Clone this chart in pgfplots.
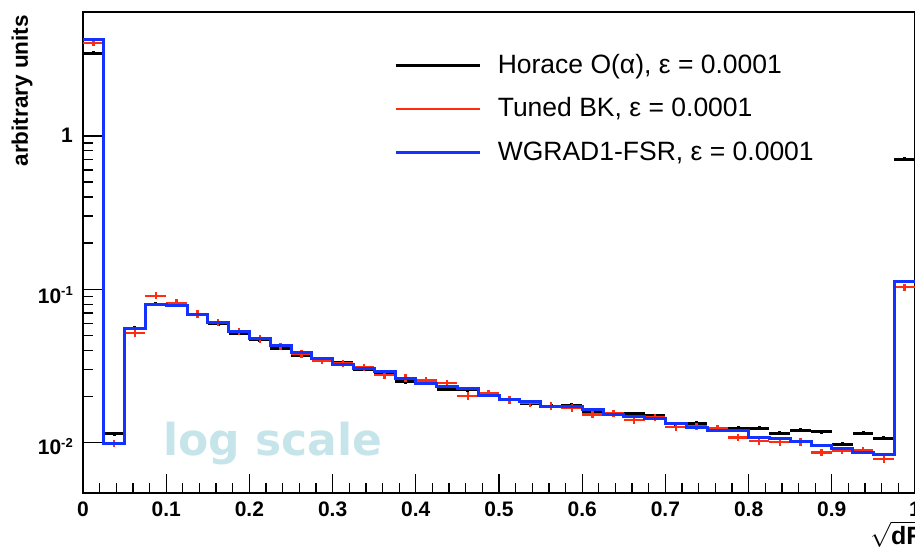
\documentclass[border=0pt]{standalone}
\usepackage{pgfplots}
\pgfplotsset{compat=1.18}
\usepackage{pgfplotstable}
\usepackage{fontspec}
\setmainfont{Liberation Sans}
\newfontfamily\wmfont{DejaVu Sans}
\definecolor{hblue}{RGB}{20,50,255}
\definecolor{hred}{RGB}{255,45,15}
\definecolor{wm}{RGB}{198,229,234}
\newcommand{\pw}[1]{10\raisebox{7.5pt}{\fontsize{13}{13}\selectfont #1}}

\pgfplotstableread{
x y
0.0125 3.45
0.0375 0.0114
0.0625 0.0558
0.0875 0.0800
0.1125 0.0790
0.1375 0.0680
0.1625 0.0597
0.1875 0.0517
0.2125 0.0470
0.2375 0.0414
0.2625 0.0369
0.2875 0.0352
0.3125 0.0332
0.3375 0.0302
0.3625 0.0281
0.3875 0.0250
0.4125 0.0254
0.4375 0.0223
0.4625 0.0222
0.4875 0.0210
0.5125 0.0192
0.5375 0.0180
0.5625 0.0173
0.5875 0.0176
0.6125 0.0158
0.6375 0.0153
0.6625 0.0154
0.6875 0.0150
0.7125 0.0133
0.7375 0.0134
0.7625 0.0122
0.7875 0.0124
0.8125 0.0124
0.8375 0.0115
0.8625 0.0121
0.8875 0.0118
0.9125 0.0098
0.9375 0.0115
0.9625 0.0107
0.9875 0.705
}\blackdata

\pgfplotstableread{
x y
0.0125 4.05
0.0375 0.0099
0.0625 0.0517
0.0875 0.0909
0.1125 0.0818
0.1375 0.0690
0.1625 0.0606
0.1875 0.0530
0.2125 0.0474
0.2375 0.0425
0.2625 0.0380
0.2875 0.0343
0.3125 0.0330
0.3375 0.0310
0.3625 0.0276
0.3875 0.0265
0.4125 0.0254
0.4375 0.0244
0.4625 0.0202
0.4875 0.0210
0.5125 0.0190
0.5375 0.0181
0.5625 0.0174
0.5875 0.0169
0.6125 0.0153
0.6375 0.0155
0.6625 0.0141
0.6875 0.0146
0.7125 0.0127
0.7375 0.0128
0.7625 0.0124
0.7875 0.0108
0.8125 0.0103
0.8375 0.0101
0.8625 0.0101
0.8875 0.00865
0.9125 0.0089
0.9375 0.0089
0.9625 0.0078
0.9875 0.103
}\reddata

\pgfplotstableread{
x y
0.000 4.22
0.025 0.0099
0.050 0.0553
0.075 0.0798
0.100 0.0782
0.125 0.0690
0.150 0.0606
0.175 0.0529
0.200 0.0476
0.225 0.0429
0.250 0.0388
0.275 0.0355
0.300 0.0324
0.325 0.0304
0.350 0.0290
0.375 0.0263
0.400 0.0244
0.425 0.0232
0.450 0.0224
0.475 0.0202
0.500 0.0192
0.525 0.0185
0.550 0.0173
0.575 0.0172
0.600 0.0164
0.625 0.0153
0.650 0.0149
0.675 0.0143
0.700 0.0134
0.725 0.0125
0.750 0.0120
0.775 0.0120
0.800 0.0108
0.825 0.0107
0.850 0.0102
0.875 0.00955
0.900 0.0092
0.925 0.00865
0.950 0.00844
0.975 0.112
1.000 0.112
}\bluedata

\begin{document}
\begin{tikzpicture}
\begin{axis}[
  at={(0,0)}, anchor=south west,
  scale only axis, width=832pt, height=481pt,
  ymode=log, xmin=0, xmax=1, ymin=0.0047, ymax=6.42,
  axis line style={line width=1.5pt},
  every tick/.style={black, line width=1.3pt},
  tick align=inside,
  major tick length=19pt, minor tick length=10pt,
  xtick={0,0.1,0.2,0.3,0.4,0.5,0.6,0.7,0.8,0.9,1},
  xticklabels={0,0.1,0.2,0.3,0.4,0.5,0.6,0.7,0.8,0.9,1},
  minor x tick num=4,
  ytick={0.01,0.1,1},
  yticklabels={\raisebox{-5pt}{\pw{-2}},\raisebox{-7pt}{\pw{-1}},1},
  xtick pos=bottom, ytick pos=left,
  xticklabel style={font=\fontsize{21}{25}\selectfont\bfseries, inner sep=0pt, anchor=north, yshift=-8.5pt},
  yticklabel style={font=\fontsize{21}{25}\selectfont\bfseries, inner sep=0pt, anchor=base east, xshift=-10pt, yshift=-7pt},
  ylabel={arbitrary units},
  ylabel style={font=\fontsize{22.5}{26}\selectfont\bfseries, inner sep=0pt, at={(axis description cs:-0.0733,0.994)}, anchor=east, rotate=0},
  xlabel={$\sqrt{\mbox{\bfseries dR}}$},
  xlabel style={font=\fontsize{25}{28}\selectfont\bfseries, inner sep=0pt, at={(axis description cs:0.946,-0.058)}, anchor=north west},
  legend style={at={(axis description cs:0.3738,0.9170)}, anchor=north west, draw=none, fill=none,
    font=\fontsize{26.5}{30}\selectfont, inner sep=0pt, row sep=16.5pt, column sep=17pt,
    nodes={inner sep=0pt, text height=21pt, text depth=6pt}},
  legend cell align=left,
  legend image code/.code={\draw[#1] (0pt,0pt) -- (84pt,0pt);},
  clip=true,
]
\addlegendimage{black, line width=2.6pt}
\addlegendentry{Horace O(α), ε = 0.0001}
\addlegendimage{hred, line width=2.6pt}
\addlegendentry{Tuned BK, ε = 0.0001}
\addlegendimage{hblue, line width=2.6pt}
\addlegendentry{WGRAD1-FSR, ε = 0.0001}

\node[anchor=base west, inner sep=0pt, text=wm, font=\wmfont\bfseries\fontsize{44}{46}\selectfont] at (axis cs:0.096,0.0083) {log scale};

\addplot[forget plot, draw=none, mark=none,
  error bars/.cd, x dir=both, x fixed=0.0125, y dir=both, y fixed relative=0.03,
  error mark=none, error bar style={draw=black, solid, line width=3pt}] table {\blackdata};
\addplot[forget plot, draw=none, mark=none,
  error bars/.cd, x dir=both, x fixed=0.0125, y dir=both, y fixed relative=0.055,
  error mark=none, error bar style={draw=hred, solid, line width=2.3pt}] table {\reddata};
\addplot[forget plot, const plot, hblue, line width=3pt] table {\bluedata};
\end{axis}
\pgfresetboundingbox
\useasboundingbox (-83pt,-59pt) rectangle (832pt,493pt);
\end{tikzpicture}
\end{document}
